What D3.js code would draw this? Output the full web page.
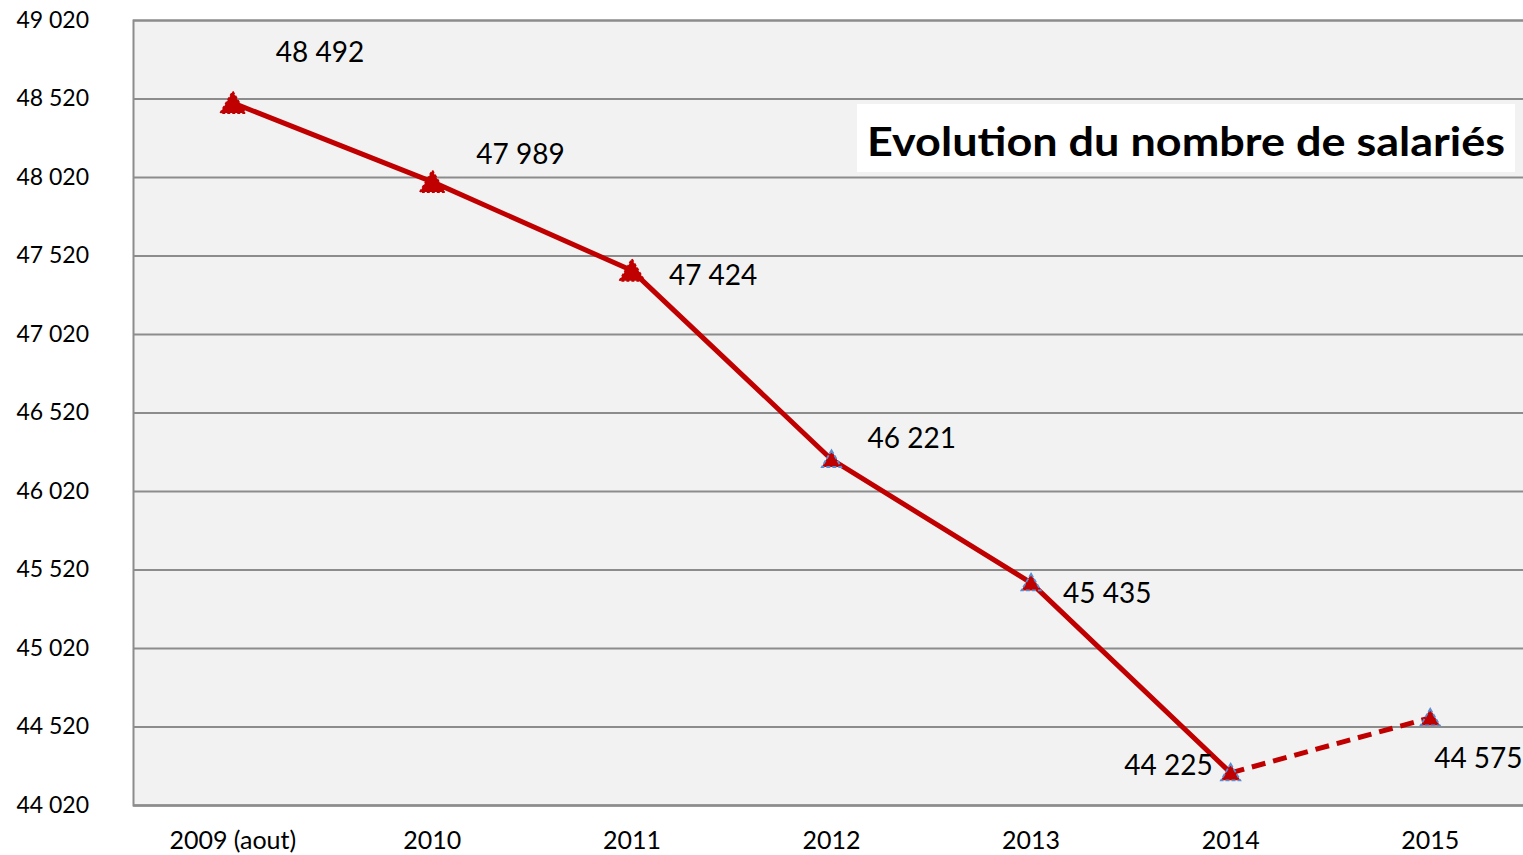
<!DOCTYPE html>
<html><head><meta charset="utf-8">
<script src="https://cdn.jsdelivr.net/npm/d3@7"></script>
<style>body{margin:0;background:#fff}svg{display:block}text{font-family:Lato,"Open Sans",sans-serif}</style>
</head><body>
<svg id="c" width="1523" height="855"></svg>
<script>
const categories = ["2009 (aout)","2010","2011","2012","2013","2014","2015"];
const salaries = [48492,47989,47424,46221,45435,44225,44575];
const labels = ["48 492","47 989","47 424","46 221","45 435","44 225","44 575"];
const yTicks = [44020,44520,45020,45520,46020,46520,47020,47520,48020,48520,49020];
const title = "Evolution du nombre de salariés";

// label placement (layout, not data)
const labelDx = [43,44,37,36,32,-18,4];
const labelDy = [-52,-29,3,-22,9,-9,39];
const labelAnchor = ["start","start","start","start","start","end","start"];

const svg = d3.select("#c");
const m = {l:133, t:20, r:1530, b:805};
const x = d3.scaleBand().domain(categories).range([m.l, m.r]);
const y = d3.scaleLinear().domain([44020,49020]).range([m.b, m.t]);
const cx = d => x(d) + x.bandwidth()/2;

svg.append("rect").attr("x",m.l).attr("y",m.t).attr("width",m.r-m.l).attr("height",m.b-m.t).attr("fill","#f2f2f2");

const fmt = v => d3.format(",")(v).replace(/,/g," ");
const yAxis = d3.axisLeft(y).tickValues(yTicks).tickFormat(fmt).tickSize(-(m.r-m.l)).tickPadding(44);
const gy = svg.append("g").attr("transform",`translate(${m.l},0)`).call(yAxis);
gy.select(".domain").attr("stroke","#8c8c8c").attr("stroke-width",2);
gy.selectAll(".tick line").attr("stroke","#8c8c8c").attr("stroke-width",2);
gy.selectAll(".tick text").attr("font-size",23).attr("fill","#000").attr("font-family","Lato, sans-serif");

const xAxis = d3.axisBottom(x).tickSize(0).tickPadding(26);
const gx = svg.append("g").attr("transform",`translate(0,${m.b})`).call(xAxis);
gx.select(".domain").attr("stroke","#8c8c8c").attr("stroke-width",2);
gx.selectAll(".tick text").attr("font-size",25).attr("fill","#000").attr("font-family","Lato, sans-serif");

// title box
const tb = svg.append("g");
tb.append("rect").attr("x",857).attr("y",104).attr("width",658).attr("height",68).attr("fill","#fff");
tb.append("text").attr("x",1186).attr("y",140).attr("text-anchor","middle").attr("dominant-baseline","central")
  .attr("font-size",41).attr("font-weight","bold").attr("fill","#000").attr("textLength",638).attr("lengthAdjust","spacingAndGlyphs").text(title);

const pts = categories.map((c,i)=>({c, v:salaries[i], i}));
const line = d3.line().x(d=>cx(d.c)).y(d=>y(d.v));
svg.append("path").datum(pts.slice(0,6)).attr("d",line).attr("fill","none").attr("stroke","#c00000").attr("stroke-width",5).attr("stroke-linejoin","round");
svg.append("path").datum(pts.slice(5)).attr("d",line).attr("fill","none").attr("stroke","#c00000").attr("stroke-width",5).attr("stroke-dasharray","14,8");

const big = d3.symbol().type(d3.symbolTriangle).size(270);
const small = d3.symbol().type(d3.symbolTriangle).size(160);
svg.selectAll(".mk").data(pts).join("path").attr("class","mk")
  .attr("d",d=>d.i>=3?small():big()).attr("transform",d=>`translate(${cx(d.c)},${y(d.v)+(d.i>=3?2:3)})`)
  .attr("fill","#c00000").attr("stroke",d=>d.i>=3?"#5b8ed0":"#c00000").attr("stroke-width",1.8).attr("stroke-dasharray",d=>d.i>=3?"4,2":"3,2");

svg.selectAll(".lb").data(pts).join("text").attr("class","lb")
  .attr("x",d=>cx(d.c)+labelDx[d.i]).attr("y",d=>y(d.v)+labelDy[d.i])
  .attr("text-anchor",d=>labelAnchor[d.i]).attr("dominant-baseline","central")
  .attr("font-size",28).attr("fill","#000").text(d=>labels[d.i]);
</script>
</body></html>
